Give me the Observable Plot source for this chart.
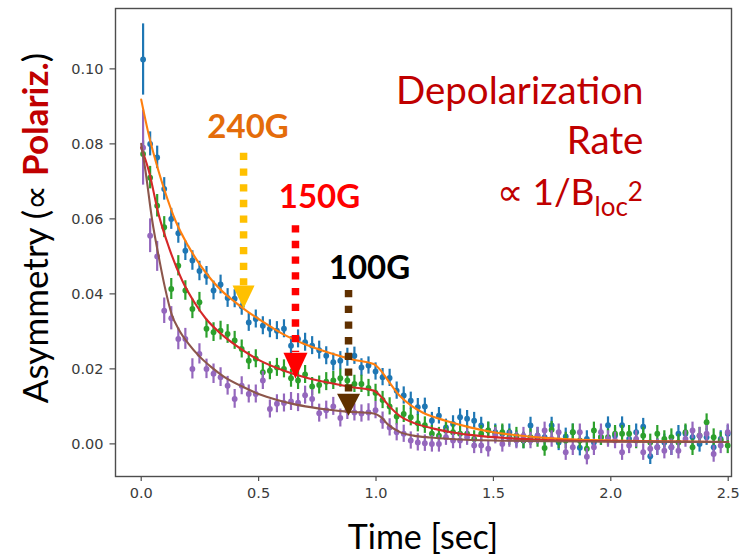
<!DOCTYPE html>
<html>
<head>
<meta charset="utf-8">
<script src="https://cdn.jsdelivr.net/npm/d3@7"></script>
<script src="https://cdn.jsdelivr.net/npm/@observablehq/plot@0.6"></script>
<style>
html,body{margin:0;padding:0;background:#fff;}
#chart svg{display:block;}
</style>
</head>
<body>
<div id="chart"></div>
<script>
// ---- data ----
const times = [0.008,0.038,0.068,0.098,0.128,0.158,0.188,0.218,0.248,0.278,
 0.308,0.338,0.368,0.398,0.428,0.458,0.488,0.518,0.548,0.578,
 0.608,0.638,0.668,0.698,0.728,0.758,0.788,0.818,0.848,0.878,
 0.908,0.938,0.968,0.998,1.028,1.058,1.088,1.118,1.148,1.178,
 1.208,1.238,1.268,1.298,1.328,1.358,1.388,1.418,1.448,1.478,
 1.508,1.538,1.568,1.598,1.628,1.658,1.688,1.718,1.748,1.778,
 1.808,1.838,1.868,1.898,1.928,1.958,1.988,2.018,2.048,2.078,
 2.108,2.138,2.168,2.198,2.228,2.258,2.288,2.318,2.348,2.378,
 2.408,2.438,2.468,2.498];

const blueAsym = [0.1025,0.0800,0.0764,0.0680,0.0600,0.0562,0.0515,0.0489,0.0461,0.0448,
 0.0409,0.0425,0.0389,0.0387,0.0367,0.0324,0.0333,0.0315,0.0307,0.0302,
 0.0307,0.0262,0.0280,0.0271,0.0262,0.0250,0.0235,0.0218,0.0222,0.0231,
 0.0235,0.0204,0.0209,0.0193,0.0178,0.0176,0.0142,0.0129,0.0115,0.0098,
 0.0100,0.0062,0.0075,0.0044,0.0053,0.0071,0.0067,0.0062,0.0049,0.0036,
 0.0031,0.0027,0.0031,0.0013,0.0009,0.0049,0.0022,0.0018,0.0049,0.0004,
 0.0020,0.0031,-0.0010,0.0013,0.0004,0.0018,0.0050,0.0022,0.0050,0.0013,
 0.0031,0.0046,-0.0033,-0.0009,0.0004,-0.0009,0.0027,0.0027,0.0018,0.0000,
 0.0018,-0.0009,0.0013,0.0027];
const blueErr = [0.0095,0.0032,0.0030,0.0030,0.0028,0.0027,0.0026,0.0026,0.0026,0.0025,
 0.0025,0.0025,0.0025,0.0024,0.0024,0.0024,0.0024,0.0024,0.0024,0.0024,
 0.0024,0.0024,0.0024,0.0024,0.0024,0.0024,0.0024,0.0024,0.0024,0.0024,
 0.0023,0.0023,0.0023,0.0023,0.0023,0.0023,0.0023,0.0023,0.0023,0.0023,
 0.0022,0.0022,0.0022,0.0022,0.0022,0.0022,0.0022,0.0022,0.0022,0.0022,
 0.0022,0.0022,0.0022,0.0022,0.0022,0.0022,0.0022,0.0022,0.0022,0.0022,
 0.0022,0.0022,0.0022,0.0022,0.0022,0.0022,0.0022,0.0022,0.0022,0.0022,
 0.0022,0.0022,0.0022,0.0022,0.0022,0.0022,0.0022,0.0022,0.0022,0.0022,
 0.0022,0.0022,0.0022,0.0022];

const greenAsym = [0.0773,0.0710,0.0635,0.0578,0.0413,0.0475,0.0409,0.0360,0.0378,0.0307,
 0.0298,0.0302,0.0293,0.0276,0.0253,0.0222,0.0227,0.0191,0.0195,0.0204,
 0.0200,0.0175,0.0169,0.0185,0.0153,0.0157,0.0166,0.0169,0.0175,0.0169,
 0.0160,0.0160,0.0149,0.0136,0.0117,0.0100,0.0073,0.0080,0.0071,0.0055,
 0.0050,0.0027,0.0022,0.0036,0.0031,0.0027,0.0027,0.0013,0.0027,0.0036,
 0.0027,0.0031,0.0018,0.0022,0.0009,0.0018,0.0013,-0.0011,0.0038,0.0009,
 0.0009,0.0031,0.0009,-0.0013,0.0036,0.0018,0.0018,0.0027,0.0027,0.0027,
 0.0009,0.0022,0.0004,0.0027,0.0013,0.0018,0.0004,0.0031,-0.0009,0.0022,
 0.0058,0.0018,0.0009,-0.0004];
const greenErr = [0.0035,0.0030,0.0030,0.0028,0.0028,0.0027,0.0026,0.0026,0.0026,0.0025,
 0.0025,0.0025,0.0025,0.0024,0.0024,0.0024,0.0024,0.0024,0.0024,0.0024,
 0.0024,0.0024,0.0024,0.0024,0.0024,0.0024,0.0024,0.0024,0.0024,0.0024,
 0.0023,0.0023,0.0023,0.0023,0.0023,0.0023,0.0023,0.0023,0.0023,0.0023,
 0.0022,0.0022,0.0022,0.0022,0.0022,0.0022,0.0022,0.0022,0.0022,0.0022,
 0.0022,0.0022,0.0022,0.0022,0.0022,0.0022,0.0022,0.0022,0.0022,0.0022,
 0.0022,0.0022,0.0022,0.0022,0.0022,0.0022,0.0022,0.0022,0.0022,0.0022,
 0.0022,0.0022,0.0022,0.0022,0.0022,0.0022,0.0022,0.0022,0.0022,0.0022,
 0.0022,0.0022,0.0022,0.0022];

const purpleAsym = [0.0790,0.0555,0.0500,0.0355,0.0335,0.0280,0.0280,0.0200,0.0240,0.0200,
 0.0187,0.0178,0.0155,0.0120,0.0155,0.0133,0.0133,0.0169,0.0093,0.0107,
 0.0109,0.0113,0.0110,0.0130,0.0120,0.0082,0.0090,0.0100,0.0069,0.0089,
 0.0084,0.0081,0.0084,0.0090,0.0062,0.0044,0.0031,0.0027,0.0009,0.0004,
 0.0002,0.0000,0.0000,0.0018,0.0009,0.0009,0.0018,-0.0004,-0.0004,-0.0013,
 0.0022,0.0000,0.0013,0.0009,0.0022,0.0009,0.0022,0.0036,0.0013,0.0031,
 -0.0022,-0.0009,0.0031,-0.0034,-0.0009,0.0031,0.0013,0.0009,-0.0022,-0.0004,
 0.0013,-0.0022,-0.0013,-0.0009,-0.0018,-0.0009,-0.0018,0.0013,0.0036,0.0022,
 0.0027,-0.0027,-0.0004,0.0031];
const purpleErr = [0.0100,0.0045,0.0040,0.0034,0.0031,0.0029,0.0028,0.0027,0.0027,0.0026,
 0.0026,0.0025,0.0025,0.0025,0.0024,0.0024,0.0024,0.0024,0.0024,0.0024,
 0.0024,0.0024,0.0024,0.0024,0.0024,0.0024,0.0024,0.0024,0.0024,0.0024,
 0.0023,0.0023,0.0023,0.0023,0.0023,0.0023,0.0023,0.0023,0.0023,0.0023,
 0.0022,0.0022,0.0022,0.0022,0.0022,0.0022,0.0022,0.0022,0.0022,0.0022,
 0.0022,0.0022,0.0022,0.0022,0.0022,0.0022,0.0022,0.0022,0.0022,0.0022,
 0.0022,0.0022,0.0022,0.0022,0.0022,0.0022,0.0022,0.0022,0.0022,0.0022,
 0.0022,0.0022,0.0022,0.0022,0.0022,0.0022,0.0022,0.0022,0.0022,0.0022,
 0.0022,0.0022,0.0022,0.0022];

// fitted curves
const orangeFitT = [0,0.03,0.075,0.1,0.146,0.2,0.25,0.3,0.35,0.4,0.45,0.5,0.6,0.7,0.8,0.9,0.99,1.02,1.05,1.1,1.15,1.2,1.25,1.3,1.4,1.5,1.6,1.7,1.8,2.0,2.2,2.5];
const orangeFitV = [0.0918,0.0830,0.0725,0.0675,0.0595,0.0528,0.0478,0.0437,0.0404,0.0378,0.0354,0.0333,0.0294,0.0265,0.0243,0.0225,0.0213,0.0196,0.0170,0.0129,0.0102,0.0083,0.0071,0.0061,0.0044,0.0031,0.0023,0.0017,0.0013,0.0009,0.0007,0.0005];
const redFitT = [0,0.032,0.075,0.118,0.175,0.231,0.274,0.35,0.4,0.5,0.6,0.7,0.8,0.9,0.99,1.02,1.06,1.1,1.16,1.25,1.32,1.4,1.5,1.7,2.0,2.5];
const redFitV = [0.0790,0.0729,0.0610,0.0524,0.0435,0.0373,0.0335,0.0288,0.0264,0.0224,0.0197,0.0177,0.0163,0.0151,0.0142,0.0127,0.0098,0.0075,0.0056,0.0040,0.0031,0.0024,0.0018,0.0011,0.0007,0.0005];
const brownFitT = [0,0.018,0.047,0.075,0.1,0.13,0.16,0.2,0.25,0.3,0.35,0.437,0.5,0.579,0.65,0.721,0.8,0.877,0.99,1.02,1.05,1.1,1.16,1.23,1.32,1.5,2.0,2.5];
const brownFitV = [0.0800,0.0729,0.0595,0.0498,0.0420,0.0345,0.0305,0.0268,0.0232,0.0204,0.0180,0.0151,0.0133,0.0117,0.0106,0.0098,0.0091,0.0086,0.0081,0.0072,0.0052,0.0032,0.0022,0.0017,0.0013,0.0009,0.0006,0.0005];

// axes
const xTicks = [0, 0.5, 1.0, 1.5, 2.0, 2.5];
const yTicks = [0, 0.02, 0.04, 0.06, 0.08, 0.10];
const xDomain = [-0.1095, 2.514];
const yDomain = [-0.0087, 0.1161];

// annotations
const fieldLabels = ["240G", "150G", "100G"];
const labelX = [0.455, 0.759, 0.972];
const labelY = [0.0815, 0.0630, 0.0441];
const arrowX = [0.436, 0.657, 0.883];
const arrowStart = [0.0775, 0.0582, 0.0409];
const arrowHeadTop = [0.0422, 0.0244, 0.0134];
const arrowTip = [0.0361, 0.0174, 0.0075];

const rateLines = ["Depolarization", "Rate"];
const rateX = 2.139;
const rateY = [0.0907, 0.0774, 0.0636];

// ---- build ----
const rows = (asym, err) => times.map((t, i) => ({t, a: asym[i], e: err[i]}));
const fit = (T, V) => T.map((t, i) => ({t, v: V[i]}));

const series = [
  {data: rows(blueAsym, blueErr), color: "#1f77b4"},
  {data: rows(greenAsym, greenErr), color: "#2ca02c"},
  {data: rows(purpleAsym, purpleErr), color: "#9467bd"}
];
const fits = [
  {data: fit(orangeFitT, orangeFitV), color: "#ff7f0e"},
  {data: fit(redFitT, redFitV), color: "#d62728"},
  {data: fit(brownFitT, brownFitV), color: "#8c564b"}
];
const arrowColors = ["#ffc000", "#ff0000", "#603000"];
const labelColors = ["#e46c0a", "#ff0000", "#000000"];
const headW = [22, 24, 23];
const headH = [23, 26, 22];

const headSymbol = (w, h) => ({
  draw(ctx) { ctx.moveTo(-w / 2, -h); ctx.lineTo(w / 2, -h); ctx.lineTo(0, 0); ctx.closePath(); }
});

const marks = [];
marks.push(Plot.frame({stroke: "#4d4d4d", strokeWidth: 1.4}));
marks.push(Plot.axisX({ticks: xTicks, tickFormat: d3.format(".1f"), tickSize: 5, tickPadding: 6.5, label: null, stroke: "#4d4d4d", strokeWidth: 1.2}));
marks.push(Plot.axisY({ticks: yTicks, tickFormat: d3.format(".2f"), tickSize: 5.5, tickPadding: 6.5, label: null, stroke: "#4d4d4d", strokeWidth: 1.2}));

for (const s of series) {
  marks.push(Plot.ruleX(s.data, {x: "t", y1: d => d.a - d.e, y2: d => d.a + d.e, stroke: s.color, strokeWidth: 2.2}));
  marks.push(Plot.dot(s.data, {x: "t", y: "a", r: 2.9, fill: s.color, stroke: "none"}));
}
for (const f of fits) {
  marks.push(Plot.line(f.data, {x: "t", y: "v", stroke: f.color, strokeWidth: 2.1, curve: "monotone-x"}));
}
fieldLabels.forEach((lab, i) => {
  marks.push(Plot.ruleX([i], {x: () => arrowX[i], y1: () => arrowStart[i], y2: () => arrowHeadTop[i],
    stroke: arrowColors[i], strokeWidth: 7.5, strokeDasharray: "7.3 8.4"}));
  marks.push(Plot.dot([i], {x: () => arrowX[i], y: () => arrowTip[i], symbol: headSymbol(headW[i], headH[i]),
    fill: arrowColors[i], stroke: "none", r: 5}));
  marks.push(Plot.text([lab], {x: () => labelX[i], y: () => labelY[i], text: d => d, fill: labelColors[i],
    fontFamily: "Lato", fontWeight: "bold", fontSize: 33, lineAnchor: "bottom", textAnchor: "middle"}));
});
rateLines.forEach((line, i) => {
  marks.push(Plot.text([line], {x: () => rateX, y: () => rateY[i], text: d => d, fill: "#c00000",
    fontFamily: "Lato", fontSize: 38.5, lineAnchor: "bottom", textAnchor: "end"}));
});

const plot = Plot.plot({
  width: 741, height: 557,
  marginLeft: 115, marginRight: 10, marginTop: 8, marginBottom: 81,
  x: {domain: xDomain},
  y: {domain: yDomain},
  style: {fontFamily: "DejaVu Sans", fontSize: "14.5px", color: "#3a3a3a", background: "#fff"},
  marks
});
document.getElementById("chart").append(plot);

// rich-text labels (mixed styles) positioned with the plot's scales
const svg = d3.select(plot);
const X = plot.scale("x"), Y = plot.scale("y");

const rate3 = svg.append("text")
  .attr("x", X.apply(rateX)).attr("y", Y.apply(rateY[2]))
  .attr("text-anchor", "end").attr("fill", "#c00000")
  .style("font-family", "Lato").style("font-size", "37px").style("white-space", "pre");
rate3.append("tspan").text("\u221d 1/B");
rate3.append("tspan").attr("dy", 11).style("font-size", "26px").text("loc");
rate3.append("tspan").attr("dy", -15).style("font-size", "26px").text("2");

const xMid = (X.range[0] + X.range[1]) / 2;
svg.append("text")
  .attr("x", xMid).attr("y", 549)
  .attr("text-anchor", "middle").attr("fill", "#000")
  .style("font-family", "Lato").style("font-size", "34px")
  .text("Time [sec]");

const yl = svg.append("text")
  .attr("transform", "translate(48,228) rotate(-90)")
  .attr("text-anchor", "middle").attr("fill", "#000")
  .style("font-family", "Lato").style("font-size", "35px").style("white-space", "pre");
yl.append("tspan").text("Asymmetry (\u221d ");
yl.append("tspan").attr("font-weight", "bold").attr("fill", "#c00000").text("Polariz.");
yl.append("tspan").text(")");
</script>
</body>
</html>
